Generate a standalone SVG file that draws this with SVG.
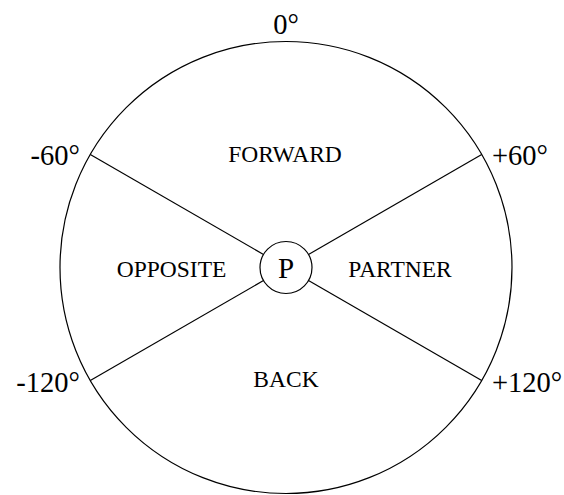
<svg xmlns="http://www.w3.org/2000/svg" width="564" height="495" viewBox="0 0 564 495">
<style>
.ln{stroke:#000;stroke-width:1.2;fill:none}
.deg{font-family:"Liberation Serif","Times New Roman",serif;font-size:28.5px;fill:#000}
.lab{font-family:"Liberation Serif","Times New Roman",serif;font-size:23.5px;fill:#000;text-anchor:middle}
</style>
<rect width="564" height="495" fill="#fff"/>
<g id="outer"><circle class="ln" cx="286" cy="267.5" r="226"/></g>
<g id="connectors">
<line class="ln" x1="263.5" y1="254.5" x2="90.3" y2="154.5"/>
<line class="ln" x1="308.5" y1="254.5" x2="481.7" y2="154.5"/>
<line class="ln" x1="263.5" y1="280.5" x2="90.3" y2="380.5"/>
<line class="ln" x1="308.5" y1="280.5" x2="481.7" y2="380.5"/>
</g>
<g id="P"><circle class="ln" cx="286" cy="267.5" r="26"/><text x="286" y="278" font-family="Liberation Serif,serif" font-size="29" text-anchor="middle">P</text></g>
<g id="angles">
<text class="deg" x="286" y="34" text-anchor="middle">0°</text>
<text class="deg" x="80" y="165" text-anchor="end">-60°</text>
<text class="deg" x="492" y="165">+60°</text>
<text class="deg" x="80" y="391.5" text-anchor="end">-120°</text>
<text class="deg" x="492" y="391.5">+120°</text>
</g>
<g id="forward"><text class="lab" x="285" y="161.5">FORWARD</text></g>
<g id="opposite"><text class="lab" x="171.5" y="276.5">OPPOSITE</text></g>
<g id="partner"><text class="lab" x="400" y="276.5">PARTNER</text></g>
<g id="back"><text class="lab" x="286" y="386.5">BACK</text></g>
</svg>
